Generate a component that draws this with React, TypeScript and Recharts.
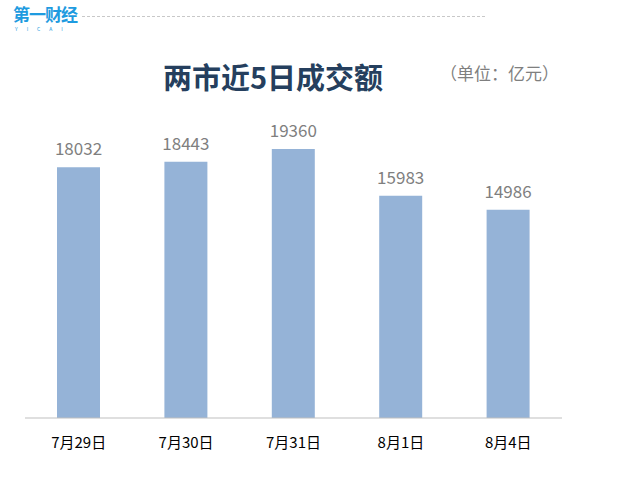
import React from "react";
import { BarChart, Bar, XAxis, YAxis, LabelList } from "recharts";

const dates = ["7月29日", "7月30日", "7月31日", "8月1日", "8月4日"];
const turnover = [18032, 18443, 19360, 15983, 14986];

const data = dates.map((d, i) => ({ date: d, value: turnover[i] }));

const font = "'Microsoft YaHei', 'Noto Sans CJK SC', sans-serif";

export default function App() {
  return (
    <div style={{ position: "absolute", left: 0, top: 0, width: 624, height: 485, background: "#fff", fontFamily: font, overflow: "hidden" }}>
      {/* Logo */}
      <div style={{ position: "absolute", left: 13, top: 4, color: "#1e9be0", fontWeight: 700, fontSize: 17, lineHeight: "20px", letterSpacing: -1 }}>
        第一财经
      </div>
      <div style={{ position: "absolute", left: 15, top: 26, color: "#1e9be0", fontSize: 5, letterSpacing: 9, lineHeight: "5px" }}>
        YICAI
      </div>
      <div style={{ position: "absolute", left: 82, top: 16, width: 403, borderTop: "1px dashed #c8c8c8" }} />

      {/* Title */}
      <div style={{ position: "absolute", left: 163, top: 58, color: "#253f5e", fontWeight: 700, fontSize: 29, lineHeight: "36px" }}>
        两市近5日成交额
      </div>
      <div style={{ position: "absolute", left: 440, top: 62, color: "#7f7f7f", fontSize: 17, lineHeight: "22px" }}>
        （单位：亿元）
      </div>

      <BarChart width={624} height={485} data={data} margin={{ top: 140, right: 62, bottom: 37, left: 25 }}>
        <XAxis
          dataKey="date"
          height={30}
          axisLine={{ stroke: "#bfbfbf" }}
          tickLine={false}
          tick={{ fill: "#000", fontSize: 15, fontFamily: font }}
          dy={11}
        />
        <YAxis hide domain={[0, 20000]} />
        <Bar dataKey="value" fill="#95b3d7" barSize={43} isAnimationActive={false}>
          <LabelList dataKey="value" position="top" offset={12} fill="#7f7f7f" fontSize={17} fontFamily={font} />
        </Bar>
      </BarChart>
    </div>
  );
}
